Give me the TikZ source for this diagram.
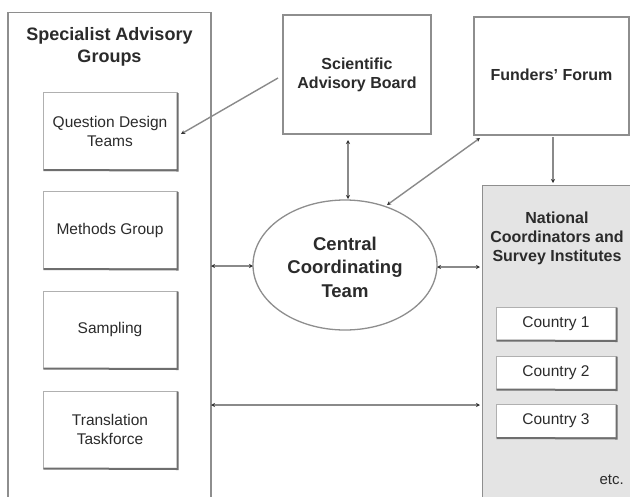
\documentclass[tikz,border=0pt]{standalone}
\usepackage{fontspec}
\setmainfont{Liberation Sans}
\usetikzlibrary{arrows.meta,shapes.geometric}
\definecolor{txt}{HTML}{2B2B2B}
\definecolor{bord}{HTML}{8E8E8E}
\definecolor{darkedge}{HTML}{6E6E6E}
\definecolor{natfill}{HTML}{E4E4E4}
\definecolor{conn}{HTML}{8A8A8A}
\definecolor{tipcol}{HTML}{333333}
\begin{document}
\begin{tikzpicture}[x=1pt,y=-1pt,
  every node/.style={text=txt, align=center, inner sep=0pt},
  bigbox/.style={draw=bord, line width=1.3pt, fill=white},
  topbox/.style={draw=bord, line width=1.3pt, fill=white},
  subbox/.style={draw=bord!70, line width=1pt, fill=white, minimum width=134pt, minimum height=77pt,
    font=\fontsize{15.5}{19}\selectfont},
  cbox/.style={draw=bord!70, line width=1pt, fill=white, minimum width=120pt, minimum height=33pt,
    font=\fontsize{15.5}{19}\selectfont},
  boldtxt/.style={font=\fontsize{16}{19}\selectfont\bfseries},
  bottomedge/.style={draw=darkedge, line width=2pt},
  conline/.style={draw=conn, line width=1.4pt},
  tip/.style={{Stealth[length=4pt,width=4pt,color=tipcol]}},
  both/.style={conline, {Stealth[length=4pt,width=4pt,color=tipcol]}-{Stealth[length=4pt,width=4pt,color=tipcol]}},
  toend/.style={conline, -{Stealth[length=4pt,width=4pt,color=tipcol]}}
]
\useasboundingbox (0,0) rectangle (630,496);
\clip (0,0) rectangle (630,496);

% left container
\node[bigbox, anchor=north, minimum width=203pt, minimum height=520pt] (sag) at (109.5,12) {};
\node[font=\fontsize{18}{22}\selectfont\bfseries] (sagt) at (109.5,47) {Specialist Advisory\\Groups};

\node[subbox] (qdt) at (110,131) {Question Design\\Teams};
\node[subbox] (mg) at (110,230) {Methods Group};
\node[subbox] (samp) at (110,329.5) {Sampling};
\node[subbox] (tt) at (110,429.5) {Translation\\Taskforce};

% top boxes
\node[topbox, minimum width=148pt, minimum height=119pt, boldtxt] (sab) at (357,74.5) {Scientific\\Advisory Board};
\node[topbox, minimum width=155pt, minimum height=118pt] (ff) at (551.5,76) {};
\node[boldtxt] (fft) at (551.5,75) {Funders' Forum};

% ellipse
\node[ellipse, draw=bord, line width=1.3pt, fill=white, minimum width=184pt, minimum height=130pt] (ell) at (345,265) {};
\node[font=\fontsize{18.5}{23.5}\selectfont\bfseries] (ellt) at (345,267) {Central\\Coordinating\\Team};

% national box
\node[draw=bord, line width=1.3pt, fill=natfill, anchor=north west, minimum width=170pt, minimum height=340pt] (nat) at (482,185) {};
\node[boldtxt] (natt) at (557,238) {National\\Coordinators and\\Survey Institutes};
\node[cbox] (c1) at (556,323.5) {Country 1};
\node[cbox] (c2) at (556,372.5) {Country 2};
\node[cbox] (c3) at (556,421) {Country 3};
\node[font=\fontsize{15}{18}\selectfont, anchor=east] (etc) at (624,480) {etc.};

\foreach \n in {qdt,mg,samp,tt,c1,c2,c3}
  \draw[bottomedge] ([xshift=1pt]\n.south west) -- ([yshift=-0.5pt]\n.south east) -- ([yshift=-1pt]\n.north east);

% connector coordinates
\coordinate (sabL) at (278,78);
\coordinate (qdtR) at (181,134);
\coordinate (sabB) at (348,140);
\coordinate (ellT) at (348,199);
\coordinate (ffC) at (480,138);
\coordinate (ellTR) at (387,205);
\coordinate (ffB) at (553,137);
\coordinate (natT) at (553,183);
\coordinate (sagR1) at (211,266);
\coordinate (ellL) at (253,266);
\coordinate (ellR) at (437,267);
\coordinate (natL1) at (480,267);
\coordinate (sagR2) at (211,405);
\coordinate (natL2) at (480,405);

\draw[toend] (sabL) -- (qdtR);
\draw[both] (sabB) -- (ellT);
\draw[both] (ffC) -- (ellTR);
\draw[toend] (ffB) -- (natT);
\draw[both] (sagR1) -- (ellL);
\draw[both] (ellR) -- (natL1);
\draw[both] (sagR2) -- (natL2);
\end{tikzpicture}
\end{document}
